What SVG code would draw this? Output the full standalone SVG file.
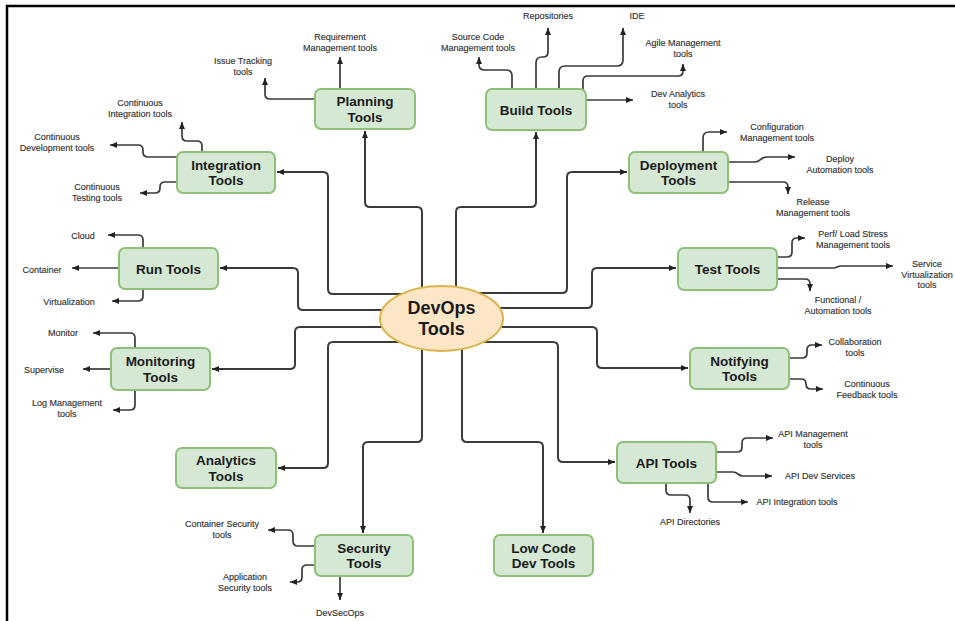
<svg xmlns="http://www.w3.org/2000/svg" width="955" height="621" viewBox="0 0 955 621">
<style>
.node rect{fill:#d5e8d4;stroke:#8fbf78;stroke-width:2}
.node text{font-family:"Liberation Sans",Arial,sans-serif;font-weight:700;font-size:13.5px;fill:#1a1a1a;text-anchor:middle}
.hub ellipse{fill:#fde6c6;stroke:#d9b44a;stroke-width:2}
.hub text{font-family:"Liberation Sans",Arial,sans-serif;font-weight:700;font-size:18px;fill:#1a1a1a;text-anchor:middle}
.main path{fill:none;stroke:#3a3a3a;stroke-width:2;marker-end:url(#ah)}
.leaf path{fill:none;stroke:#3a3a3a;stroke-width:1.7;marker-end:url(#ah)}
.lbl{font-family:"Liberation Sans",Arial,sans-serif;font-size:9px;fill:#333;stroke:#333;stroke-width:0.15;text-anchor:middle}
</style>
<defs>
<marker id="ah" markerUnits="userSpaceOnUse" markerWidth="8" markerHeight="8" viewBox="0 0 8 8" refX="7" refY="4" orient="auto">
<path d="M0,1 L7,4 L0,7 Z" fill="#222"/>
</marker>
</defs>
<rect x="0" y="0" width="955" height="621" fill="#fff"/>
<path d="M7,621 V6 H955" fill="none" stroke="#000" stroke-width="2.5"/>

<g id="connectors">
<g class="main">
<path d="M422,290 V212 Q422,207 417,207 H370 Q365,207 365,202 V131"/>
<path d="M456,290 V212 Q456,207 461,207 H531 Q536,207 536,202 V132"/>
<path d="M405,294 H333 Q328,294 328,289 V177 Q328,172 323,172 H277"/>
<path d="M400,310 H303 Q298,310 298,305 V273 Q298,268 293,268 H220"/>
<path d="M400,327 H300 Q295,327 295,332 V364 Q295,369 290,369 H212"/>
<path d="M410,342 H333 Q328,342 328,347 V463 Q328,468 323,468 H278"/>
<path d="M422,345 V437 Q422,442 417,442 H368 Q363,442 363,447 V533"/>
<path d="M462,345 V437 Q462,442 467,442 H538 Q543,442 543,447 V533"/>
<path d="M472,342 H553 Q558,342 558,347 V457 Q558,462 563,462 H615"/>
<path d="M480,327 H592 Q597,327 597,332 V363 Q597,368 602,368 H688"/>
<path d="M480,308 H587 Q592,308 592,303 V273 Q592,268 597,268 H676"/>
<path d="M478,293 H562 Q567,293 567,288 V177 Q567,172 572,172 H627"/>
</g>
<g class="leaf">
<path d="M340,89 V57"/>
<path d="M315,99 H270 Q265,99 265,94 V78"/>
<path d="M512,89 V76 Q512,70 506,70 H485 Q479,70 479,65 V57"/>
<path d="M536,89 V63 Q536,57 542,57 H543 Q548,57 548,52 V28"/>
<path d="M559,89 V72 Q559,66 565,66 H617 Q623,66 623,60 V28"/>
<path d="M583,90 V81 Q583,76 588,76 H678 Q683,76 683,71 V64"/>
<path d="M586,100 H633"/>
<path d="M202,152 V146 Q202,141 197,141 H187 Q182,141 182,136 V122"/>
<path d="M177,157 H148 Q143,157 143,152 V150 Q143,145 138,145 H110"/>
<path d="M177,182 H165 Q160,182 160,187 V188 Q160,193 155,193 H140"/>
<path d="M703,152 V138 Q703,132 709,132 H727"/>
<path d="M728,162 H755 C761,162 760,157 767,157 H795"/>
<path d="M728,182 H783 Q788,182 788,187 V194"/>
<path d="M777,257 H787 Q792,257 792,252 V243 Q792,238 797,238 H805"/>
<path d="M777,268 H833 C837,268 837,266 841,266 H893"/>
<path d="M777,279 H805 Q810,279 810,284 V291"/>
<path d="M143,248 V240 Q143,235 138,235 H108"/>
<path d="M119,268 H72"/>
<path d="M143,289 V296 Q143,301 138,301 H112"/>
<path d="M135,348 V338 Q135,333 130,333 H93"/>
<path d="M111,369 H83"/>
<path d="M135,390 V405 Q135,410 130,410 H113"/>
<path d="M789,358 H802 Q807,358 807,353 V350 Q807,345 812,345 H822"/>
<path d="M789,379 H801 Q806,379 806,384 V384 Q806,389 811,389 H823"/>
<path d="M716,452 H737 Q742,452 742,447 V443 Q742,438 747,438 H773"/>
<path d="M716,472 H733 C738,472 738,476 743,476 H772"/>
<path d="M708,483 V497 Q708,502 713,502 H748"/>
<path d="M666,483 V490 Q666,495 671,495 H685 Q690,495 690,500 V513"/>
<path d="M315,546 H298 Q293,546 293,541 V535 Q293,530 288,530 H268"/>
<path d="M315,565 H307 Q302,565 302,570 V577 Q302,582 297,582 H290"/>
<path d="M340,576 V600"/>
</g>
</g>

<g id="hub" class="hub">
<ellipse cx="441.5" cy="318.5" rx="61.5" ry="32.5"/>
<text x="441.5" y="314">DevOps<tspan x="441.5" dy="21">Tools</tspan></text>
</g>

<g id="planning" class="node"><rect x="315" y="89" width="100" height="40" rx="6"/><text x="365" y="106">Planning<tspan x="365" dy="15.5">Tools</tspan></text></g>
<g id="build" class="node"><rect x="486" y="89" width="100" height="41" rx="6"/><text x="536" y="114.5">Build Tools</text></g>
<g id="integration" class="node"><rect x="177" y="152" width="98" height="41" rx="6"/><text x="226" y="169.5">Integration<tspan x="226" dy="15.5">Tools</tspan></text></g>
<g id="deployment" class="node"><rect x="629" y="152" width="99" height="41" rx="6"/><text x="678.5" y="169.5">Deployment<tspan x="678.5" dy="15.5">Tools</tspan></text></g>
<g id="run" class="node"><rect x="119" y="248" width="99" height="41" rx="6"/><text x="168.5" y="273.5">Run Tools</text></g>
<g id="test" class="node"><rect x="678" y="248" width="99" height="42" rx="6"/><text x="727.5" y="274">Test Tools</text></g>
<g id="monitoring" class="node"><rect x="111" y="348" width="99" height="42" rx="6"/><text x="160.5" y="366">Monitoring<tspan x="160.5" dy="15.5">Tools</tspan></text></g>
<g id="notifying" class="node"><rect x="690" y="348" width="99" height="41" rx="6"/><text x="739.5" y="365.5">Notifying<tspan x="739.5" dy="15.5">Tools</tspan></text></g>
<g id="analytics" class="node"><rect x="176" y="448" width="100" height="40" rx="6"/><text x="226" y="465">Analytics<tspan x="226" dy="15.5">Tools</tspan></text></g>
<g id="api" class="node"><rect x="617" y="442" width="99" height="41" rx="6"/><text x="666.5" y="467.5">API Tools</text></g>
<g id="security" class="node"><rect x="315" y="535" width="98" height="41" rx="6"/><text x="364" y="552.5">Security<tspan x="364" dy="15.5">Tools</tspan></text></g>
<g id="lowcode" class="node"><rect x="494" y="535" width="99" height="41" rx="6"/><text x="543.5" y="552.5">Low Code<tspan x="543.5" dy="15.5">Dev Tools</tspan></text></g>

<g id="labels">
<text class="lbl" x="340" y="40">Requirement<tspan x="340" dy="10.5">Management tools</tspan></text>
<text class="lbl" x="243" y="64">Issue Tracking<tspan x="243" dy="10.5">tools</tspan></text>
<text class="lbl" x="478" y="40">Source Code<tspan x="478" dy="10.5">Management tools</tspan></text>
<text class="lbl" x="548" y="19">Repositories</text>
<text class="lbl" x="637" y="19">IDE</text>
<text class="lbl" x="683" y="46">Agile Management<tspan x="683" dy="10.5">tools</tspan></text>
<text class="lbl" x="678" y="97">Dev Analytics<tspan x="678" dy="10.5">tools</tspan></text>
<text class="lbl" x="140" y="106">Continuous<tspan x="140" dy="10.5">Integration  tools</tspan></text>
<text class="lbl" x="57" y="140">Continuous<tspan x="57" dy="10.5">Development  tools</tspan></text>
<text class="lbl" x="97" y="190">Continuous<tspan x="97" dy="10.5">Testing tools</tspan></text>
<text class="lbl" x="777" y="130">Configuration<tspan x="777" dy="10.5">Management tools</tspan></text>
<text class="lbl" x="840" y="162">Deploy<tspan x="840" dy="10.5">Automation tools</tspan></text>
<text class="lbl" x="813" y="205">Release<tspan x="813" dy="10.5">Management tools</tspan></text>
<text class="lbl" x="853" y="237">Perf/ Load Stress<tspan x="853" dy="10.5">Management tools</tspan></text>
<text class="lbl" x="927" y="267">Service<tspan x="927" dy="10.5">Virtualization</tspan><tspan x="927" dy="10.5">tools</tspan></text>
<text class="lbl" x="838" y="303">Functional /<tspan x="838" dy="10.5">Automation tools</tspan></text>
<text class="lbl" x="83" y="239">Cloud</text>
<text class="lbl" x="42" y="273">Container</text>
<text class="lbl" x="69" y="305">Virtualization</text>
<text class="lbl" x="63" y="336">Monitor</text>
<text class="lbl" x="44" y="373">Supervise</text>
<text class="lbl" x="67" y="406">Log Management<tspan x="67" dy="10.5">tools</tspan></text>
<text class="lbl" x="855" y="345">Collaboration<tspan x="855" dy="10.5">tools</tspan></text>
<text class="lbl" x="867" y="387">Continuous<tspan x="867" dy="10.5">Feedback tools</tspan></text>
<text class="lbl" x="813" y="437">API Management<tspan x="813" dy="10.5">tools</tspan></text>
<text class="lbl" x="820" y="479">API Dev Services</text>
<text class="lbl" x="797" y="505">API Integration tools</text>
<text class="lbl" x="690" y="525">API Directories</text>
<text class="lbl" x="222" y="527">Container Security<tspan x="222" dy="10.5">tools</tspan></text>
<text class="lbl" x="245" y="580">Application<tspan x="245" dy="10.5">Security tools</tspan></text>
<text class="lbl" x="340" y="616">DevSecOps</text>
</g>
</svg>
